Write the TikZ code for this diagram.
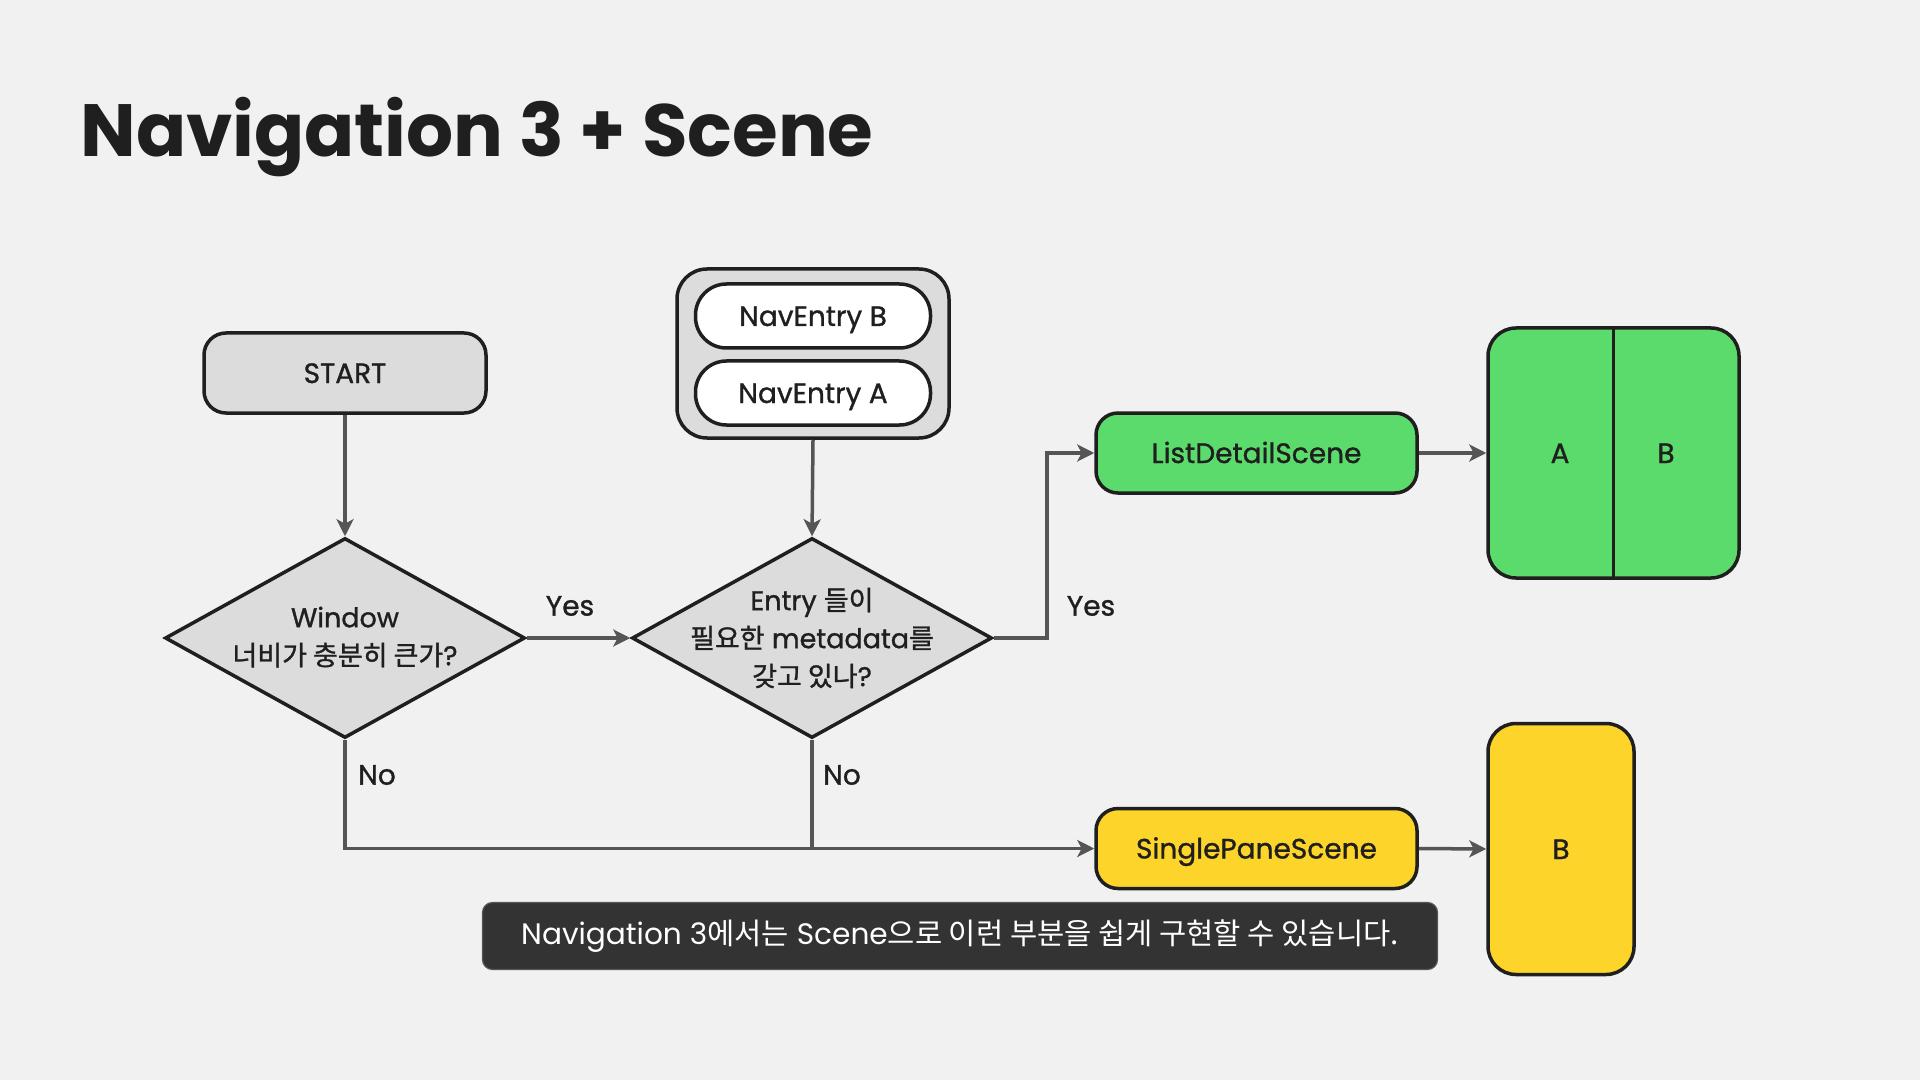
\documentclass[tikz,border=0pt]{standalone}
\usepackage{fontspec}
\setmainfont{Poppins}
\newfontfamily\med{Poppins}[FakeBold=1.1]
\newfontfamily\kr{Noto Sans CJK KR}
\newfontfamily\krmed{Noto Sans CJK KR}[FakeBold=1.1]
\usetikzlibrary{shapes.geometric,arrows.meta}
\definecolor{bg}{HTML}{F1F1F1}
\definecolor{ink}{HTML}{1F1F1F}
\definecolor{boxgray}{HTML}{DCDCDC}
\definecolor{scenegreen}{HTML}{5CDB6D}
\definecolor{sceneyellow}{HTML}{FDD42A}
\definecolor{connc}{HTML}{555555}
\definecolor{capbg}{HTML}{333333}
\tikzset{
  box/.style={draw=ink, line width=1.75pt, text=ink, align=center, font=\fontsize{14}{17}\selectfont\med, inner sep=0pt, text height=10pt, text depth=0pt},
  grayrect/.style={box, fill=boxgray, rounded corners=11pt},
  pill/.style={box, fill=white, rounded corners=15.5pt, minimum width=117.5pt, minimum height=32pt},
  decision/.style={draw=ink, line width=1.75pt, diamond, fill=boxgray, aspect=1.8, inner sep=0pt, minimum width=180pt, minimum height=100pt},
  dtext/.style={text=ink, align=center, inner sep=0pt, font=\fontsize{13.5}{19}\selectfont\med},
  scenebox/.style={box, rounded corners=11pt, minimum width=160.5pt, minimum height=40pt},
  panebox/.style={box, rounded corners=14pt},
  conn/.style={draw=connc, line width=1.75pt, -{Stealth[length=8.5pt,width=8.5pt,inset=2.2pt]}},
  line/.style={draw=connc, line width=1.75pt},
  lbl/.style={text=ink, font=\fontsize{14}{17}\selectfont\med, inner sep=0pt}
}
\begin{document}
\begin{tikzpicture}[x=0.5pt,y=-0.5pt]
\fill[bg] (0,0) rectangle (1920,1080);
\useasboundingbox (0,0) rectangle (1920,1080);

% title
\node[anchor=base west, inner sep=0pt, text=ink, font=\fontsize{37}{44}\selectfont\bfseries] (title) at (80,157) {Navigation 3 + Scene};

% start
\node[grayrect, minimum width=141pt, minimum height=40pt] (start) at (345,373) {START};

% nav entries container
\node[box, fill=boxgray, rounded corners=15pt, minimum width=136pt, minimum height=84.5pt] (stack) at (813,353.5) {};
\node[pill] (navb) at (813,316) {NavEntry B};
\node[pill] (nava) at (813,393) {NavEntry A};

% decisions
\node[decision] (d1) at (345,638) {};
\node[dtext] (d1t) at (345,637) {Window\\{\krmed 너비가 충분히 큰가}?};
\node[decision] (d2) at (812,638) {};
\node[dtext] (d2t) at (812,638) {Entry {\krmed 들이}\\{\krmed 필요한} metadata{\krmed 를}\\{\krmed 갖고 있나}?};

% scenes
\node[scenebox, fill=scenegreen] (ld) at (1256.5,453) {ListDetailScene};
\node[scenebox, fill=sceneyellow] (sp) at (1256.5,848.5) {SinglePaneScene};

% panes
\node[panebox, fill=scenegreen, minimum width=125.5pt, minimum height=125pt] (ab) at (1613.5,453) {};
\draw[draw=ink, line width=1.75pt] (ab.north) -- (ab.south);
\node[lbl, text height=10pt, text depth=0pt] (pa) at (1560,453) {A};
\node[lbl, text height=10pt, text depth=0pt] (pb) at (1666,453) {B};
\node[panebox, fill=sceneyellow, minimum width=73pt, minimum height=125.5pt] (bb) at (1561,849) {B};

% caption
\node[fill=capbg, draw=connc, line width=0.6pt, rounded corners=5pt, minimum width=477.5pt, minimum height=33.5pt, text=white, font=\fontsize{14.8}{18}\selectfont, inner sep=0pt] (cap) at (960,936) {Navigation 3{\kr 에서는} Scene{\kr 으로 이런 부분을 쉽게 구현할 수 있습니다.}};

% connectors
\draw[conn] (start.south) -- (d1.north);
\draw[conn] (stack.south) -- (d2.north);
\draw[conn] (d1.east) -- (d2.west);
\coordinate (j1) at (1047,638);
\draw[conn] (d2.east) -- (j1) |- (ld.west);
\draw[conn] (d1.south) |- (sp.west);
\draw[line] (d2.south) -- (d2.south |- sp.west);
\draw[conn] (ld.east) -- (ab.west);
\draw[conn] (sp.east) -- (bb.west);

% labels
\node[lbl] (yes1) at (570,606) {Yes};
\node[lbl] (yes2) at (1091,606) {Yes};
\node[lbl] (no1) at (377,775) {No};
\node[lbl] (no2) at (842,775) {No};
\end{tikzpicture}
\end{document}
